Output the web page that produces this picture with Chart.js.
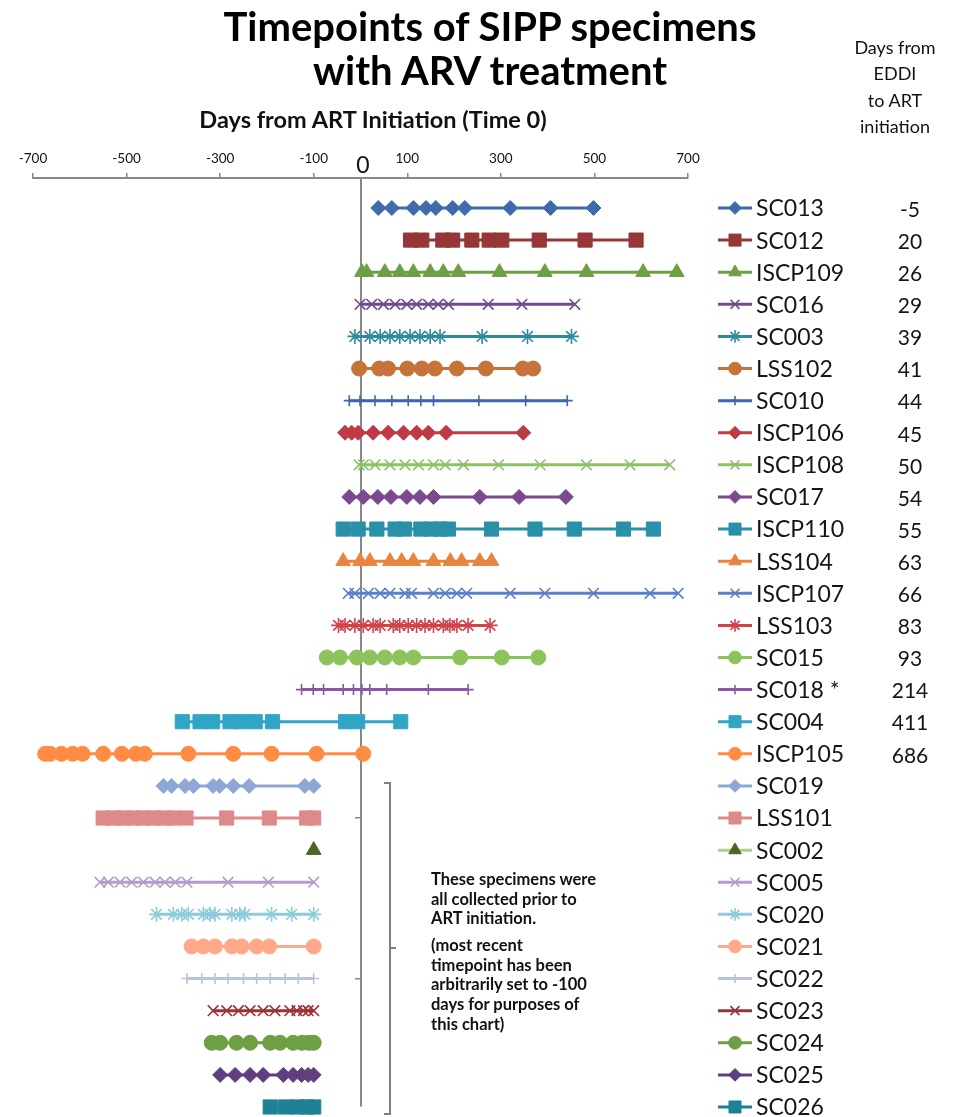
<!DOCTYPE html>
<html><head><meta charset="utf-8">
<script src="https://cdn.jsdelivr.net/npm/chart.js@4.4.1/dist/chart.umd.min.js"></script>
<style>
html,body{margin:0;padding:0;background:#fff;}
#wrap{position:relative;width:961px;height:1117px;overflow:hidden;font-family:Lato,"Open Sans",sans-serif;color:#000;}
canvas{position:absolute;left:0;top:0;}
.t{position:absolute;white-space:nowrap;}
</style></head><body>
<div id="wrap">
<canvas id="c" width="961" height="1117"></canvas>
<div class="t" style="left:0;width:980px;top:4px;text-align:center;font-weight:700;font-size:40px;line-height:44px;">Timepoints of SIPP specimens<br>with ARV treatment</div>
<div class="t" style="left:845px;width:100px;top:34px;text-align:center;font-size:18px;line-height:26.3px;color:#111;">Days from<br>EDDI<br>to ART<br>initiation</div>
<div class="t" style="left:173px;width:400px;top:105px;text-align:center;font-weight:700;font-size:23.5px;line-height:28px;color:#111;">Days from ART Initiation (Time 0)</div>
<div class="t" style="left:343px;width:40px;top:151px;text-align:center;font-size:23px;line-height:26px;color:#111;">0</div>
<div class="t" style="left:431px;top:870px;font-weight:700;font-size:16.5px;line-height:19.7px;color:#111;">These specimens were<br>all collected prior to<br>ART initiation.</div>
<div class="t" style="left:431px;top:936px;font-weight:700;font-size:16.5px;line-height:19.7px;color:#111;">(most recent<br>timepoint has been<br>arbitrarily set to -100<br>days for purposes of<br>this chart)</div>
<div style="position:absolute;left:384px;top:782px;width:5px;height:329px;border-top:2px solid #808080;border-bottom:2px solid #808080;border-right:2px solid #808080;"></div>
<div style="position:absolute;left:391px;top:947px;width:5px;height:2px;background:#808080;"></div>
</div>
<script>
// ---- data ----
const seriesNames = ['SC013','SC012','ISCP109','SC016','SC003','LSS102','SC010','ISCP106','ISCP108','SC017','ISCP110','LSS104','ISCP107','LSS103','SC015','SC018 *','SC004','ISCP105','SC019','LSS101','SC002','SC005','SC020','SC021','SC022','SC023','SC024','SC025','SC026'];
const eddiDays = ['-5','20','26','29','39','41','44','45','50','54','55','63','66','83','93','214','411','686','','','','','','','','','','',''];
const xTickValues = [-700,-500,-300,-100,100,300,500,700];
const yTickRows = [4,9,14,19,24];

const SC013 = [38,67,113,140,161,197,223,320,406,498];
const SC012 = [107,131,176,197,238,275,302,382,480,589];
const ISCP109 = [3,13,52,84,113,149,177,209,297,394,483,604,676];
const SC016 = [-1,24,49,74,99,120,145,166,188,273,345,458];
const SC003 = [-12,20,42,63,84,106,127,149,170,260,357,451];
const LSS102 = [-3,40,59,100,131,159,206,268,347,369];
const SC010 = [-24,-1,31,67,102,129,156,253,353,442];
const ISCP106 = [-33,-19,-5,27,59,92,120,145,183,348];
const ISCP108 = [-3,6,31,63,95,124,156,181,220,295,384,483,576,661];
const SC017 = [-24,6,37,65,99,127,156,255,339,439];
const ISCP110 = [-37,-5,35,74,94,129,152,171,188,280,373,457,562,626];
const LSS104 = [-37,-1,20,63,88,113,156,192,216,255,280];
const ISCP107 = [-26,-12,17,42,63,95,109,156,181,206,227,320,394,498,619,679];
const LSS103 = [-47,-33,-12,6,27,42,70,84,102,120,138,156,177,191,206,230,277];
const SC015 = [-72,-44,-8,20,52,84,113,213,302,380];
const SC018 = [-126,-101,-79,-37,-15,3,20,56,145,230];
const SC004 = [-381,-343,-316,-279,-254,-225,-188,-32,-6,86];
const ISCP105 = [-674,-663,-639,-615,-594,-550,-510,-480,-461,-368,-272,-190,-94,6];
const SC019 = [-421,-404,-375,-357,-315,-301,-272,-238,-119,-100];
const LSS101 = [-550,-528,-507,-486,-464,-443,-421,-400,-373,-286,-195,-115,-100];
const SC002 = [-100];
const SC005 = [-557,-539,-514,-489,-464,-439,-418,-396,-371,-283,-197,-100];
const SC020 = [-436,-400,-382,-368,-336,-322,-311,-275,-258,-247,-190,-147,-100];
const SC021 = [-361,-336,-311,-275,-254,-222,-195,-100];
const SC022 = [-371,-339,-311,-283,-250,-222,-193,-161,-133,-100];
const SC023 = [-315,-286,-261,-236,-208,-183,-151,-136,-122,-112,-100];
const SC024 = [-318,-300,-265,-236,-193,-172,-144,-125,-110,-100];
const SC025 = [-300,-268,-236,-208,-165,-144,-126,-112,-100];
const SC026 = [-193,-161,-135,-115,-100];

const seriesValues = [SC013,SC012,ISCP109,SC016,SC003,LSS102,SC010,ISCP106,ISCP108,SC017,ISCP110,LSS104,ISCP107,LSS103,SC015,SC018,SC004,ISCP105,SC019,LSS101,SC002,SC005,SC020,SC021,SC022,SC023,SC024,SC025,SC026];

// ---- styles ----
const lineColors = ['#3F6BAA','#963636','#6E9F44','#714B8F','#2C8B9C','#C6733A','#3D66AB','#BE3B45','#8DC067','#7A4A8F','#2A90A8','#E8843F','#5A80C8','#D1434B','#8CC35B','#8B56A7','#31A6C4','#FF8C42','#8FA7D4','#DE8A8B','#A9D18E','#B39CCB','#8BCBDB','#FFA98A','#B9C3DD','#9A3337','#6E9F44','#603F7E','#1F8196'];
const markerColors = lineColors.slice(); markerColors[20] = '#4F6228';
const markerKinds = ['diamond','square','triangle','x','star','circle','plus','diamond','x','diamond','square','triangle','x','star','circle','plus','square','circle','diamond','square','triangle','x','star','circle','plus','x','circle','diamond','square'];
const kindStyle = {
  diamond:{ps:'rectRot', r:7.5, fill:true, bw:1},
  square:{ps:'rect', r:10, fill:true, bw:1},
  triangle:{ps:'triangle', r:8.5, fill:true, bw:1},
  x:{ps:'crossRot', r:7.5, fill:false, bw:1.6},
  star:{ps:'star', r:7.5, fill:false, bw:1.6},
  circle:{ps:'circle', r:7.5, fill:true, bw:1},
  plus:{ps:'cross', r:5.5, fill:false, bw:1.6}
};
const ROW_PX = 32.107;     // spacing between specimen rows
const FIRST_ROW_MIN = -0.934;

const datasets = seriesValues.map((vals, i) => {
  const k = kindStyle[markerKinds[i]];
  return {
    label: seriesNames[i],
    data: vals.map(v => ({x: v, y: i})),
    borderColor: lineColors[i],
    borderWidth: 3,
    showLine: true,
    fill: false,
    tension: 0,
    pointStyle: k.ps,
    pointRadius: k.r,
    pointHoverRadius: k.r,
    pointBackgroundColor: k.fill ? markerColors[i] : 'rgba(0,0,0,0)',
    pointBorderColor: markerColors[i],
    pointBorderWidth: k.bw,
    clip: false
  };
});

const sideLegend = {
  id: 'sideLegend',
  afterDraw(chart) {
    const ctx = chart.ctx, ys = chart.scales.y;
    ctx.save();
    seriesNames.forEach((name, i) => {
      const y = ys.getPixelForValue(i);
      const k = kindStyle[markerKinds[i]];
      ctx.strokeStyle = lineColors[i]; ctx.lineWidth = 3;
      ctx.beginPath(); ctx.moveTo(718, y); ctx.lineTo(752, y); ctx.stroke();
      ctx.fillStyle = markerColors[i]; ctx.strokeStyle = markerColors[i]; ctx.lineWidth = k.bw;
      Chart.helpers.drawPoint(ctx, {pointStyle: k.ps, radius: k.r * 0.85, rotation: 0, borderWidth: k.bw}, 735, y);
      ctx.fillStyle = '#151515';
      ctx.font = '23px Lato';
      ctx.textAlign = 'left'; ctx.textBaseline = 'middle';
      ctx.fillText(name, 756, y + 1);
      if (eddiDays[i]) {
        ctx.font = '21px Lato';
        ctx.textAlign = 'center';
        ctx.fillText(eddiDays[i], 910, y + 2);
      }
    });
    ctx.restore();
  }
};

function build() {
  const chart = new Chart(document.getElementById('c'), {
    type: 'line',
    data: { datasets },
    options: {
      responsive: false,
      animation: false,
      events: [],
      devicePixelRatio: 1,
      layout: { padding: { left: 33, right: 273, top: 138, bottom: 0 } },
      plugins: { legend: { display: false }, tooltip: { enabled: false }, title: { display: false } },
      scales: {
        x: {
          type: 'linear', position: 'top', min: -700, max: 700,
          afterBuildTicks: s => { s.ticks = xTickValues.map(v => ({ value: v })); },
          afterFit: s => { s.height = 40; },
          ticks: { font: { family: 'Lato', size: 13.5 }, color: '#111', padding: 6, maxRotation: 0, autoSkip: false },
          grid: { drawOnChartArea: false, drawTicks: true, tickLength: 5, color: '#888', lineWidth: 1.5 },
          border: { display: true, color: '#888', width: 2 }
        },
        y: {
          type: 'linear', reverse: true, min: FIRST_ROW_MIN, max: 28.311,
          position: { x: 0 },
          afterBuildTicks: s => { s.ticks = yTickRows.map(v => ({ value: v })); },
          ticks: { display: false },
          grid: { drawOnChartArea: false, drawTicks: true, tickLength: 5, color: '#888', lineWidth: 1.5 },
          border: { display: true, color: '#888', width: 2 }
        }
      }
    },
    plugins: [sideLegend]
  });
  // keep a fixed row spacing: extend the y range to the real plot height
  const area = chart.chartArea;
  chart.options.scales.y.max = FIRST_ROW_MIN + (area.bottom - area.top) / ROW_PX;
  chart.update('none');
}
if (document.fonts && document.fonts.load) {
  Promise.all([document.fonts.load('23px Lato'), document.fonts.load('bold 15px Lato')]).then(build, build);
} else build();
</script>
</body></html>
